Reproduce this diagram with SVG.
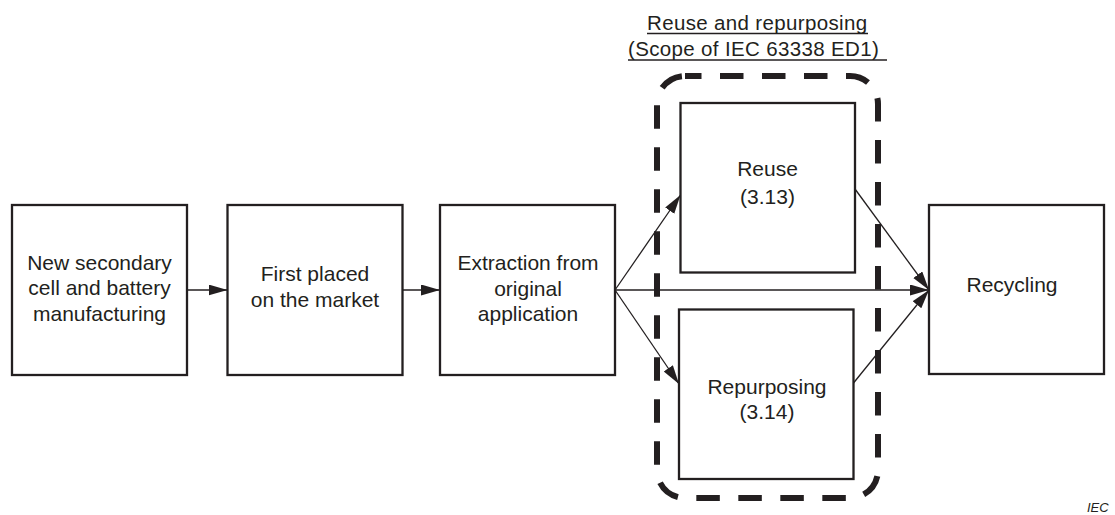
<svg xmlns="http://www.w3.org/2000/svg" width="1115" height="515" viewBox="0 0 1115 515">
<style>
.box{fill:#ffffff;stroke:#231f20;stroke-width:2.3}
.t{font-family:"Liberation Sans",Arial,sans-serif;font-size:21px;fill:#231f20;text-anchor:middle}
.title{font-family:"Liberation Sans",Arial,sans-serif;font-size:20.5px;fill:#231f20;letter-spacing:0.35px}
.ul{stroke:#231f20;stroke-width:1.3}
.c{stroke:#231f20;stroke-width:1.3;fill:none;marker-end:url(#ah)}
.scope{fill:none;stroke:#231f20;stroke-width:6;stroke-dasharray:23.5 18.5;stroke-dashoffset:7}
</style>
<defs>
<marker id="ah" markerUnits="userSpaceOnUse" markerWidth="20" markerHeight="12" refX="19" refY="5.5" orient="auto">
<path d="M0,0 L19,5.5 L0,11 z" fill="#231f20"/>
</marker>
</defs>
<rect width="1115" height="515" fill="#ffffff"/>

<g id="scope-label">
<text class="title" x="647" y="30">Reuse and repurposing</text>
<line class="ul" x1="647" y1="33.5" x2="868" y2="33.5"/>
<text class="title" x="628" y="56">(Scope of IEC 63338 ED1)</text>
<line class="ul" x1="628" y1="60" x2="887" y2="60"/>
</g>

<g id="scope">
<rect class="scope" x="657" y="76" width="221" height="422" rx="28" ry="28"/>
</g>

<g id="connectors">
<line class="c" x1="187" y1="290" x2="227.5" y2="290"/>
<line class="c" x1="402.5" y1="290" x2="440" y2="290"/>
<line class="c" x1="615" y1="290" x2="680.5" y2="195"/>
<line class="c" x1="615" y1="290" x2="679" y2="384"/>
<line class="c" x1="615" y1="290" x2="929" y2="290"/>
<line class="c" x1="855" y1="189" x2="929" y2="290"/>
<line class="c" x1="853.5" y1="383" x2="929" y2="290"/>
</g>

<g id="n1">
<rect class="box" x="12" y="205" width="175" height="170"/>
<text class="t" x="99.5" y="269.5">New secondary</text>
<text class="t" x="99.5" y="295">cell and battery</text>
<text class="t" x="99.5" y="320.5">manufacturing</text>
</g>

<g id="n2">
<rect class="box" x="227.5" y="205" width="175" height="170"/>
<text class="t" x="315" y="281">First placed</text>
<text class="t" x="315" y="306.5">on the market</text>
</g>

<g id="n3">
<rect class="box" x="440" y="205" width="175" height="170"/>
<text class="t" x="528" y="270">Extraction from</text>
<text class="t" x="528" y="295.5">original</text>
<text class="t" x="528" y="321">application</text>
</g>

<g id="n4">
<rect class="box" x="680.5" y="103" width="174.5" height="169.5"/>
<text class="t" x="767.5" y="176">Reuse</text>
<text class="t" x="767.5" y="204">(3.13)</text>
</g>

<g id="n5">
<rect class="box" x="679" y="309.5" width="174.5" height="169.5"/>
<text class="t" x="767" y="394">Repurposing</text>
<text class="t" x="767" y="419">(3.14)</text>
</g>

<g id="n6">
<rect class="box" x="929" y="205" width="175" height="169"/>
<text class="t" x="1012" y="292">Recycling</text>
</g>

<g id="credit">
<text x="1087" y="512" font-family="Liberation Sans,Arial,sans-serif" font-size="13" font-style="italic" fill="#231f20">IEC</text>
</g>
</svg>
